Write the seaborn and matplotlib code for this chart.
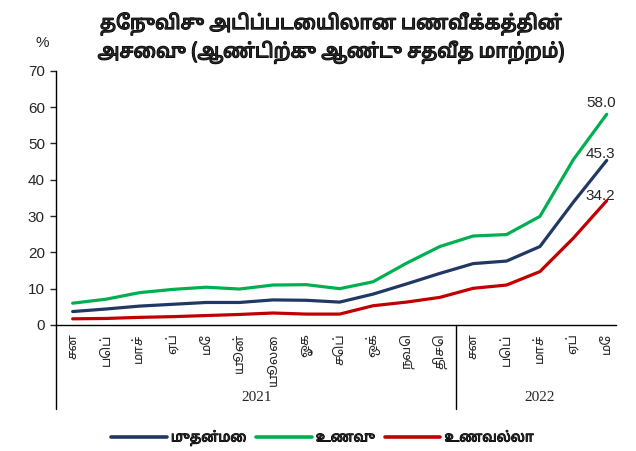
import pandas as pd
import matplotlib.pyplot as plt
import matplotlib.patheffects as pe
import seaborn as sns

# Month labels (Tamil), 2021 Jan .. 2022 May
months = ["சன", "பெப்", "மாச்", "ஏப்", "மே", "யூன்", "யூலை", "ஓக", "செப்", "ஒக்", "நவெ", "திசெ",
          "சன", "பெப்", "மாச்", "ஏப்", "மே"]
years = ["2021", "2022"]

headline = [3.7, 4.4, 5.2, 5.7, 6.2, 6.2, 6.9, 6.8, 6.3, 8.5, 11.3, 14.2, 16.9, 17.6, 21.6, 33.8, 45.3]
food = [6.0, 7.1, 8.9, 9.8, 10.4, 9.9, 11.0, 11.1, 10.0, 11.9, 17.0, 21.6, 24.5, 24.9, 29.9, 45.5, 58.0]
nonfood = [1.7, 1.8, 2.1, 2.3, 2.6, 2.9, 3.3, 3.0, 3.0, 5.3, 6.3, 7.6, 10.1, 11.0, 14.7, 23.9, 34.2]

series_names = ["முதன்மை", "உணவு", "உணவல்லா"]
colors = ["#203864", "#00B050", "#C00000"]

title = "தேநுவிசு அடிப்படையிலான பணவீக்கத்தின்\nஅசைவு (ஆண்டிற்கு ஆண்டு சதவீத மாற்றம்)"

# long-form table for seaborn
rows = []
for name, vals in zip(series_names, [headline, food, nonfood]):
    for i, v in enumerate(vals):
        rows.append({"pos": i, "value": v, "series": name})
df = pd.DataFrame(rows)

sns.set_style("white")
tamil = ["Noto Sans Tamil", "Lohit Tamil", "Latha", "Noto Sans", "DejaVu Sans"]
plt.rcParams["font.family"] = ["Liberation Sans"] + tamil

# fake bold for the Tamil text (font has no bold face)
bold = [pe.withStroke(linewidth=0.9, foreground="black")]

fig = plt.figure(figsize=(6.36, 4.51), dpi=100)
ax = fig.add_axes([0.088, 0.2794, 0.8806, 0.5638])

sns.lineplot(data=df, x="pos", y="value", hue="series", palette=colors,
             linewidth=2.3, ax=ax, legend=True)

ax.set_xlim(-0.5, 16.28)
ax.set_ylim(0, 70)
ax.set_yticks(range(0, 71, 10))
ax.tick_params(axis="y", labelsize=11, length=4, width=1, direction="out", left=True, pad=4)
ax.set_xticks(range(len(months)))
ax.set_xticklabels(months, rotation=90, fontsize=9.5, family=tamil, va="top")
ax.tick_params(axis="x", length=0, pad=6)
ax.set_xlabel("")
ax.set_ylabel("")
for s in ["top", "right"]:
    ax.spines[s].set_visible(False)
for s in ["left", "bottom"]:
    ax.spines[s].set_color("black")
    ax.spines[s].set_linewidth(1)

# year group separators and labels
trans = ax.get_xaxis_transform()
for xs in [-0.5, 11.5]:
    ax.plot([xs, xs], [0, -0.33], color="black", lw=1, transform=trans, clip_on=False)
ax.text(5.5, -0.285, years[0], transform=trans, ha="center", va="center",
        fontsize=11, family="Liberation Serif")
ax.text(14, -0.285, years[1], transform=trans, ha="center", va="center",
        fontsize=11, family="Liberation Serif")

# end labels
for vals, dy in [(food, 4), (headline, -1), (nonfood, -2)]:
    ax.annotate(f"{vals[-1]:.1f}", (16, vals[-1]), xytext=(-6, dy), textcoords="offset pixels",
                ha="center", va="bottom", fontsize=11)

fig.text(0.52, 0.972, title, ha="center", va="top", fontsize=14, fontweight="bold",
         family=tamil, linespacing=1.35, path_effects=bold)
fig.text(0.066, 0.905, "%", ha="center", va="center", fontsize=11)

handles, labels = ax.get_legend_handles_labels()
leg = ax.legend(handles, labels, loc="center", bbox_to_anchor=(0.476, -0.445), ncol=3, frameon=False,
                handlelength=4.0, handletextpad=0.3, columnspacing=0.7,
                prop={"family": tamil, "weight": "bold", "size": 10})
for h in leg.get_lines():
    h.set_linewidth(2.6)
for t in leg.get_texts():
    t.set_path_effects([pe.withStroke(linewidth=0.7, foreground="black")])

plt.savefig("out.png", dpi=100)
